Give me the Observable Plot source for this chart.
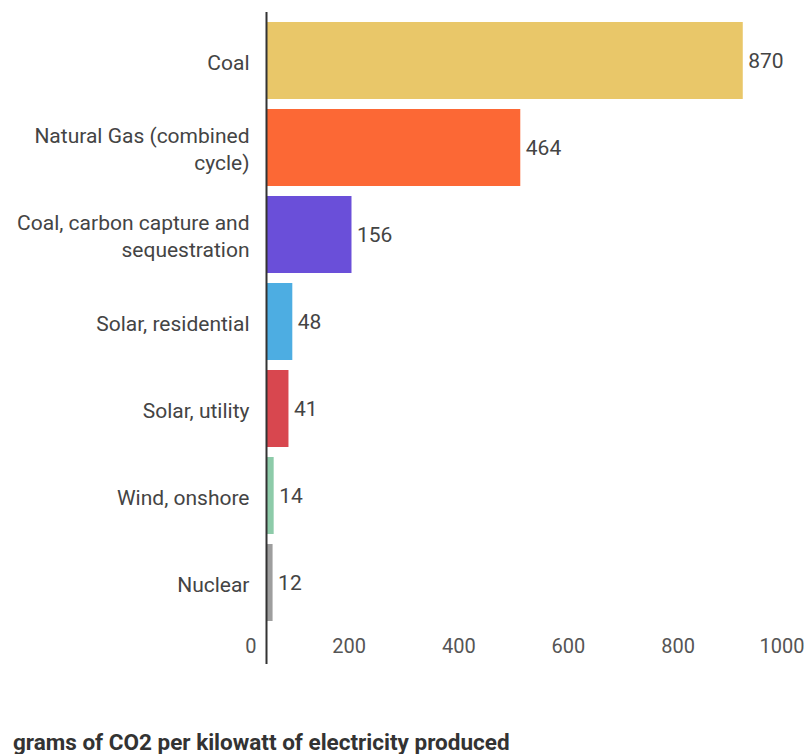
<!DOCTYPE html>
<html>
<head>
<meta charset="utf-8">
<script src="https://cdn.jsdelivr.net/npm/d3@7"></script>
<script src="https://cdn.jsdelivr.net/npm/@observablehq/plot@0.6"></script>
<style>
  html, body { margin: 0; padding: 0; background: #fff; }
  #chart svg { display: block; }
  #caption {
    font-family: Roboto, sans-serif;
    font-weight: bold;
    font-size: 22.5px;
    line-height: 24px;
    color: #333;
    margin: 30px 0 0 13px;
    white-space: nowrap;
  }
</style>
</head>
<body>
<div id="chart"></div>
<div id="caption">grams of CO2 per kilowatt of electricity produced</div>
<script>
const categories = ["Coal", "Natural Gas (combined cycle)", "Coal, carbon capture and sequestration", "Solar, residential", "Solar, utility", "Wind, onshore", "Nuclear"];
const categoryLabels = ["Coal", "Natural Gas (combined\ncycle)", "Coal, carbon capture and\nsequestration", "Solar, residential", "Solar, utility", "Wind, onshore", "Nuclear"];
const values = [870, 464, 156, 48, 41, 14, 12];
const barColors = ["#E9C769", "#FC6835", "#6A4FD9", "#4DADE2", "#D8474F", "#8DCBA9", "#9E9E9E"];
const xTicks = [0, 200, 400, 600, 800, 1000];

const data = categories.map((c, i) => ({cat: c, label: categoryLabels[i], value: values[i], color: barColors[i]}));

const chart = Plot.plot({
  width: 806,
  height: 700,
  marginTop: 12,
  marginBottom: 36,
  marginLeft: 266,
  marginRight: 0,
  style: {fontFamily: "Roboto, sans-serif", fontSize: "20px", background: "#fff"},
  x: {domain: [0, 1000], range: [266, 814], axis: null},
  y: {domain: categories, range: [11, 633], padding: 0.11, axis: null},
  color: {type: "identity"},
  marks: [
    Plot.barX(data, {x: "value", y: "cat", fill: "color"}),
    Plot.ruleX([0], {stroke: "#333", strokeWidth: 2}),
    Plot.text(data, {x: 0, y: "cat", text: "label", textAnchor: "end", dx: -17, lineHeight: 1.27, fill: "#444", fontSize: 21}),
    Plot.text(data, {x: "value", y: "cat", text: d => String(d.value), textAnchor: "start", dx: 5, fill: "#444", fontSize: 21}),
    Plot.text(xTicks, {x: d => d, frameAnchor: "bottom", text: d => String(d), textAnchor: "end", dx: -10, dy: -12, fill: "#555", fontSize: 20})
  ]
});
document.getElementById("chart").appendChild(chart);
</script>
</body>
</html>
